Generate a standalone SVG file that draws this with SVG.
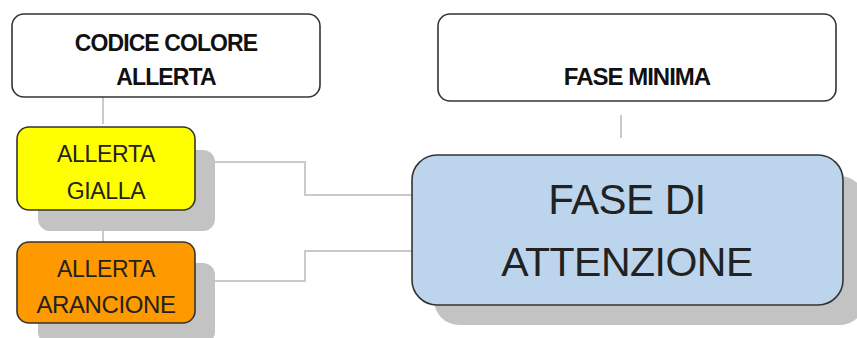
<svg xmlns="http://www.w3.org/2000/svg" width="857" height="338" viewBox="0 0 857 338">
<style>
.box{stroke:#333;stroke-width:1.6}
.sh{fill:#c3c3c3}
.t{font-family:"Liberation Sans",Arial,sans-serif;text-anchor:middle;fill:#222}
.b{font-weight:bold;fill:#111}
.c{fill:none;stroke:#cacaca;stroke-width:2}
</style>
<rect width="857" height="338" fill="#fff"/>
<g id="connectors">
<line class="c" x1="103" y1="97" x2="103" y2="124"/>
<line class="c" x1="103" y1="210" x2="103" y2="243"/>
<line class="c" x1="621" y1="115" x2="621" y2="138"/>
<polyline class="c" points="195,162 305,162 305,195 413,195"/>
<polyline class="c" points="195,281 305,281 305,251 413,251"/>
</g>
<g id="codice">
<rect class="box" x="12" y="14" width="308" height="83" rx="12" fill="#fff"/>
<text class="t b" x="166" y="51" font-size="23" letter-spacing="-0.9">CODICE COLORE</text>
<text class="t b" x="166" y="85" font-size="23" letter-spacing="-0.9">ALLERTA</text>
</g>
<g id="fase-minima">
<rect class="box" x="438" y="14" width="398" height="87" rx="12" fill="#fff"/>
<text class="t b" x="637" y="85" font-size="24" letter-spacing="-1">FASE MINIMA</text>
</g>
<g id="allerta-gialla">
<rect class="sh" x="38" y="150" width="177" height="81" rx="12"/>
<rect class="box" x="17" y="127" width="178" height="83" rx="12" fill="#ffff00"/>
<text class="t" x="106" y="162" font-size="23" letter-spacing="-0.3" fill="#333300">ALLERTA</text>
<text class="t" x="106" y="199" font-size="23" letter-spacing="-0.3" fill="#333300">GIALLA</text>
</g>
<g id="allerta-arancione">
<rect class="sh" x="38" y="263" width="177" height="81" rx="12"/>
<rect class="box" x="17" y="242" width="178" height="81" rx="12" fill="#ff9900"/>
<text class="t" x="106" y="277" font-size="23" letter-spacing="-0.3" fill="#332200">ALLERTA</text>
<text class="t" x="106" y="313" font-size="24" letter-spacing="-0.4" fill="#332200">ARANCIONE</text>
</g>
<g id="fase-attenzione">
<rect class="sh" x="434" y="176" width="431" height="149" rx="25"/>
<rect class="box" x="412" y="155" width="431" height="150" rx="25" fill="#bdd5ec"/>
<text class="t" x="627" y="214" font-size="42" letter-spacing="-0.5" fill="#1c1c28">FASE DI</text>
<text class="t" x="627" y="276" font-size="41" letter-spacing="-0.5" fill="#1c1c28">ATTENZIONE</text>
</g>
</svg>
